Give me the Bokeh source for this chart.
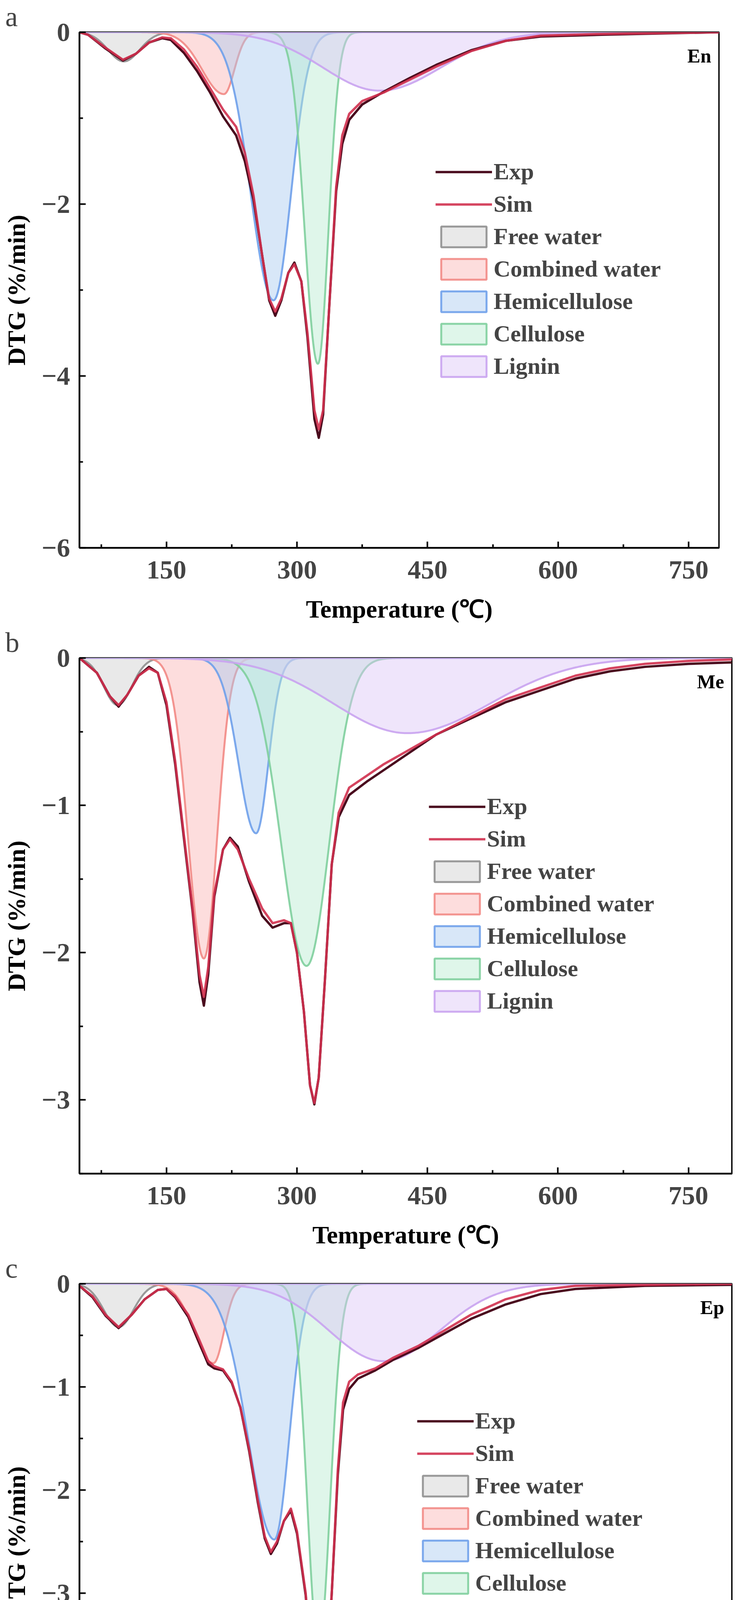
import numpy as np
from bokeh.plotting import figure
from bokeh.layouts import column
from bokeh.models import Legend, LegendItem, Label, CustomJSTickFormatter, FixedTicker, Range1d
from bokeh.embed import file_html
from bokeh.resources import INLINE

# ---------------- data ----------------
panel_letters = ["a", "b", "c"]
sample_names = ["En", "Me", "Ep"]
component_names = ["Free water", "Combined water", "Hemicellulose", "Cellulose", "Lignin"]
x_ends = [785, 800, 800]
y_mins = [-6, -3.5, -5]
y_major = [[0, -2, -4, -6], [0, -1, -2, -3], [0, -1, -2, -3, -4, -5]]
y_minor = [[-1, -3, -5], [-0.5, -1.5, -2.5, -3.5], [-0.5, -1.5, -2.5, -3.5, -4.5]]
x_major = [150, 300, 450, 600, 750]
x_minor = [75, 225, 375, 525, 675]

# fitted peaks: center (°C), height (%/min), left width, right width
peak_center = [[101, 216, 273, 324, 395],
               [94, 193, 253, 311, 427],
               [95, 204, 274, 325, 399]]
peak_height = [[-0.34, -0.72, -3.12, -3.86, -0.68],
               [-0.32, -2.04, -1.19, -2.09, -0.51],
               [-0.42, -0.77, -2.48, -3.54, -0.75]]
peak_wl = [[18, 25, 26, 15, 65],
           [16, 18, 20, 29, 85],
           [17, 22, 30, 13, 62]]
peak_wr = [[18, 12, 20, 12, 70],
           [16, 15, 14, 26, 95],
           [17, 12, 17, 13, 65]]

sim_x = [
    [50, 60, 80, 100, 115, 130, 145, 155, 170, 185, 200, 215, 230, 240, 250, 260, 268, 275, 282, 290, 297, 305, 312, 320, 325, 330, 337, 345, 352, 360, 375, 400, 430, 460, 500, 540, 580, 650, 785],
    [50, 70, 85, 95, 105, 118, 130, 140, 150, 160, 170, 180, 188, 193, 198, 205, 215, 223, 232, 245, 260, 272, 285, 293, 300, 308, 315, 320, 325, 332, 340, 348, 360, 380, 400, 430, 460, 500, 540, 580, 620, 660, 700, 750, 800],
    [50, 65, 80, 95, 110, 125, 140, 150, 160, 175, 188, 198, 205, 215, 225, 235, 245, 255, 263, 270, 277, 285, 293, 300, 310, 318, 325, 328, 333, 340, 347, 353, 360, 370, 390, 410, 440, 470, 500, 540, 580, 620, 700, 800],
]
sim_y = [
    [0, -0.03, -0.18, -0.32, -0.25, -0.12, -0.06, -0.07, -0.2, -0.4, -0.65, -0.9, -1.1, -1.4, -1.9, -2.6, -3.1, -3.25, -3.1, -2.8, -2.7, -2.9, -3.5, -4.4, -4.62, -4.4, -3.2, -1.8, -1.2, -0.95, -0.8, -0.7, -0.55, -0.4, -0.22, -0.1, -0.04, -0.02, 0],
    [0, -0.1, -0.26, -0.32, -0.25, -0.12, -0.07, -0.1, -0.3, -0.7, -1.2, -1.7, -2.15, -2.3, -2.1, -1.6, -1.3, -1.23, -1.3, -1.5, -1.7, -1.8, -1.78, -1.8, -2.0, -2.4, -2.9, -3.02, -2.85, -2.2, -1.4, -1.05, -0.88, -0.8, -0.72, -0.62, -0.52, -0.4, -0.28, -0.2, -0.12, -0.07, -0.04, -0.02, -0.01],
    [-0.02, -0.12, -0.3, -0.42, -0.3, -0.15, -0.06, -0.05, -0.12, -0.3, -0.55, -0.75, -0.8, -0.83, -0.95, -1.2, -1.6, -2.1, -2.45, -2.6, -2.5, -2.3, -2.18, -2.4, -3.0, -3.8, -4.3, -4.33, -4.0, -3.0, -1.8, -1.15, -0.95, -0.88, -0.82, -0.72, -0.6, -0.45, -0.3, -0.15, -0.06, -0.02, -0.01, 0],
]
exp_x = sim_x
exp_y = [
    [0, -0.03, -0.19, -0.33, -0.25, -0.12, -0.07, -0.09, -0.24, -0.45, -0.7, -0.98, -1.2, -1.5, -1.95, -2.6, -3.12, -3.3, -3.12, -2.8, -2.68, -2.9, -3.55, -4.5, -4.72, -4.45, -3.2, -1.85, -1.3, -1.02, -0.84, -0.69, -0.53, -0.38, -0.21, -0.1, -0.05, -0.03, 0],
    [0, -0.1, -0.26, -0.33, -0.25, -0.12, -0.06, -0.1, -0.32, -0.72, -1.22, -1.72, -2.2, -2.36, -2.15, -1.62, -1.3, -1.22, -1.28, -1.52, -1.75, -1.83, -1.8, -1.8, -2.0, -2.4, -2.9, -3.03, -2.85, -2.2, -1.4, -1.08, -0.93, -0.84, -0.76, -0.64, -0.52, -0.41, -0.3, -0.22, -0.14, -0.09, -0.06, -0.04, -0.03],
    [-0.02, -0.13, -0.31, -0.43, -0.3, -0.15, -0.06, -0.05, -0.13, -0.32, -0.58, -0.78, -0.82, -0.84, -0.96, -1.2, -1.62, -2.12, -2.47, -2.62, -2.52, -2.3, -2.2, -2.42, -3.02, -3.85, -4.35, -4.38, -4.0, -3.0, -1.85, -1.22, -1.02, -0.92, -0.84, -0.74, -0.62, -0.48, -0.34, -0.2, -0.1, -0.05, -0.02, -0.01],
]

line_cols = ["#8f8f8f", "#f28a85", "#6fa0ea", "#7fcf9d", "#c9a3ef"]
fill_cols = ["#cfcfcf", "#fbb4b4", "#a9c9f0", "#b8ecd0", "#dcc6f6"]
EXP_COL = "#4a0c1e"
SIM_COL = "#d0304e"
FONT = "Liberation Serif"

PX_PER_DEG = 2.228
FRAME_H = 1320
legend_pos = [(912, 330), (895, 353), (865, 324)]

minus_fmt = CustomJSTickFormatter(code="return tick == 0 ? '0' : (tick < 0 ? '\u2212' + Math.abs(tick) : '' + tick);")

figs = []
for k in range(3):
    xe = x_ends[k]
    fw = int(round((xe - 50) * PX_PER_DEG))
    p = figure(output_backend="svg", toolbar_location=None,
               frame_width=fw, frame_height=FRAME_H,
               x_range=Range1d(50, xe), y_range=Range1d(y_mins[k], 0),
               min_border_left=203, min_border_right=2, min_border_top=0, min_border_bottom=200)
    p.title.text = panel_letters[k]
    p.title.text_font = FONT
    p.title.text_font_style = "normal"
    p.title.text_font_size = "72px"
    p.title.align = "left"
    p.title.offset = -190
    p.title.standoff = 0
    p.outline_line_color = "black"
    p.outline_line_width = 4
    p.grid.visible = False
    p.background_fill_color = "white"

    xg = np.linspace(50, xe, 800)
    comp_renderers = []
    for j in range(5):
        c = peak_center[k][j]
        w = np.where(xg < c, peak_wl[k][j], peak_wr[k][j])
        yc = peak_height[k][j] * np.exp(-0.5 * ((xg - c) / w) ** 2)
        px = np.concatenate([xg, xg[::-1]])
        py = np.concatenate([yc, np.zeros_like(xg)])
        r = p.patch(px, py, fill_color=fill_cols[j], fill_alpha=0.45,
                    line_color=line_cols[j], line_width=5, line_alpha=0.9)
        comp_renderers.append(r)
    re = p.line(exp_x[k], exp_y[k], line_color=EXP_COL, line_width=6, line_join="round")
    rs = p.line(sim_x[k], sim_y[k], line_color=SIM_COL, line_width=6, line_alpha=0.9, line_join="round")

    items = [LegendItem(label="Exp", renderers=[re]), LegendItem(label="Sim", renderers=[rs])]
    items += [LegendItem(label=component_names[j], renderers=[comp_renderers[j]]) for j in range(5)]
    lx, ly = legend_pos[k]
    legend = Legend(items=items, location=(lx, FRAME_H - ly - 7 * 80),
                    glyph_width=145, glyph_height=66, spacing=14,
                    label_text_font=FONT, label_text_font_style="bold",
                    label_text_font_size="60px", label_standoff=4,
                    border_line_color=None, background_fill_alpha=0,
                    padding=0, margin=0)
    p.add_layout(legend)

    for ax in (p.xaxis[0], p.yaxis[0]):
        ax.axis_line_width = 4
        ax.major_tick_in = 16
        ax.major_tick_out = 0
        ax.minor_tick_in = 9
        ax.minor_tick_out = 0
        ax.major_tick_line_width = 4
        ax.minor_tick_line_width = 4
        ax.major_label_text_font = FONT
        ax.major_label_text_font_style = "bold"
        ax.major_label_text_font_size = "68px"
        ax.axis_label_text_font = FONT
        ax.axis_label_text_font_style = "bold"
        ax.axis_label_text_font_size = "64px"
        ax.axis_label_text_color = "black"
    p.xaxis.ticker = FixedTicker(ticks=x_major, minor_ticks=x_minor)
    p.yaxis.ticker = FixedTicker(ticks=y_major[k], minor_ticks=y_minor[k])
    p.yaxis.formatter = minus_fmt
    p.xaxis.major_label_standoff = 34
    p.yaxis.major_label_standoff = 24
    p.xaxis.axis_label = "Temperature (\u2103)"
    p.yaxis.axis_label = "DTG (%/min)"
    p.xaxis.axis_label_standoff = 40
    p.yaxis.axis_label_standoff = 26

    p.add_layout(Label(x=xe, y=0, x_offset=-20, y_offset=-60, text=sample_names[k],
                       text_font=FONT, text_font_style="bold", text_font_size="50px",
                       text_baseline="middle", text_align="right", text_color="black"))
    figs.append(p)

layout = column(*figs, spacing=0)
open("out.html", "w").write(file_html(layout, INLINE))
